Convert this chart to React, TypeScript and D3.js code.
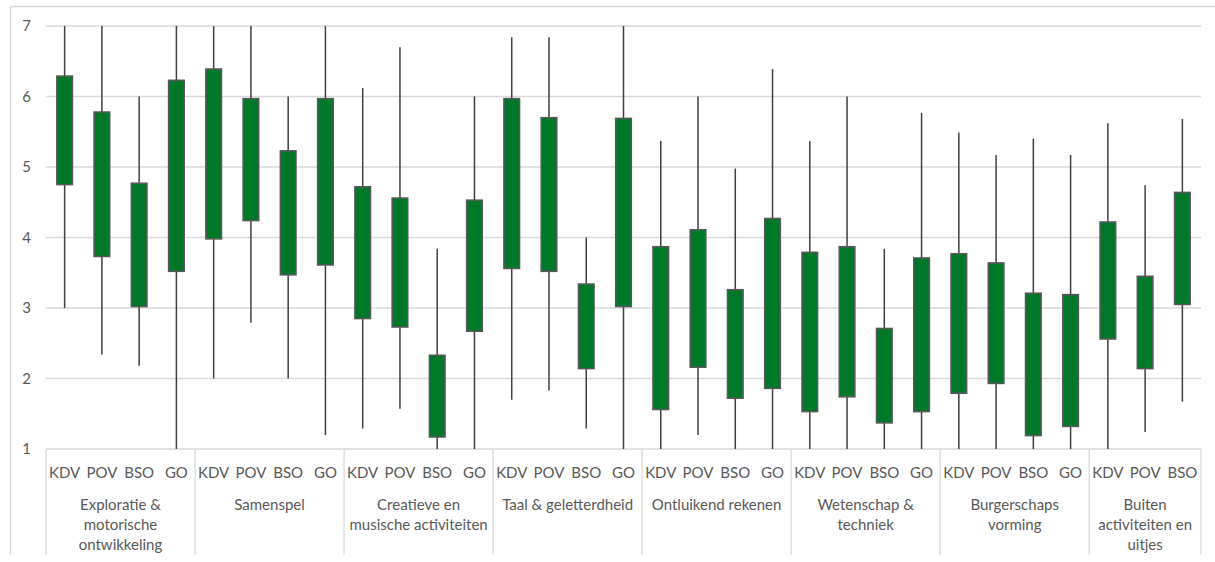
import React from "react";
import * as d3 from "d3";

const groups: string[][] = [
  ["Exploratie &", "motorische", "ontwikkeling"],
  ["Samenspel"],
  ["Creatieve en", "musische activiteiten"],
  ["Taal & geletterdheid"],
  ["Ontluikend rekenen"],
  ["Wetenschap &", "techniek"],
  ["Burgerschaps", "vorming"],
  ["Buiten", "activiteiten en", "uitjes"],
];
const subs: string[][] = [
  ["KDV", "POV", "BSO", "GO"],
  ["KDV", "POV", "BSO", "GO"],
  ["KDV", "POV", "BSO", "GO"],
  ["KDV", "POV", "BSO", "GO"],
  ["KDV", "POV", "BSO", "GO"],
  ["KDV", "POV", "BSO", "GO"],
  ["KDV", "POV", "BSO", "GO"],
  ["KDV", "POV", "BSO"],
];
const high: number[] = [
  7, 7, 6.0, 7,
  7, 7, 6.0, 7,
  6.12, 6.7, 3.84, 6.0,
  6.84, 6.84, 4.0, 7,
  5.37, 6.0, 4.98, 6.39,
  5.37, 6.0, 3.84, 5.77,
  5.49, 5.17, 5.4, 5.17,
  5.62, 4.74, 5.68,
];
const boxTop: number[] = [
  6.29, 5.78, 4.77, 6.23,
  6.39, 5.97, 5.23, 5.97,
  4.72, 4.56, 2.33, 4.53,
  5.97, 5.7, 3.34, 5.69,
  3.87, 4.11, 3.26, 4.27,
  3.79, 3.87, 2.71, 3.71,
  3.77, 3.64, 3.21, 3.19,
  4.22, 3.45, 4.64,
];
const boxBottom: number[] = [
  4.75, 3.73, 3.02, 3.52,
  3.98, 4.24, 3.47, 3.61,
  2.85, 2.73, 1.17, 2.67,
  3.56, 3.52, 2.14, 3.02,
  1.56, 2.16, 1.72, 1.86,
  1.53, 1.74, 1.37, 1.53,
  1.79, 1.93, 1.19, 1.32,
  2.56, 2.14, 3.05,
];
const low: number[] = [
  3.0, 2.34, 2.18, 1.0,
  2.0, 2.79, 2.0, 1.2,
  1.29, 1.57, 1.0, 1.0,
  1.7, 1.83, 1.29, 1.0,
  1.0, 1.2, 1.0, 1.0,
  1.0, 1.0, 1.0, 1.0,
  1.0, 1.0, 1.0, 1.0,
  1.0, 1.24, 1.67,
];
const yTicks: number[] = [1, 2, 3, 4, 5, 6, 7];

const W = 1215;
const H = 562;
const left = 46;
const right = 1201;
const top = 26;
const bottom = 449;
const font = "Lato, 'Open Sans', sans-serif";
const textColor = "#595959";
const gridColor = "#d9d9d9";

export default function App() {
  const items: { key: string; label: string; g: number }[] = [];
  subs.forEach((s, gi) => s.forEach((l, si) => items.push({ key: `${gi}-${si}`, label: l, g: gi })));
  const x = d3.scaleBand<string>().domain(items.map((d) => d.key)).range([left, right]).padding(0);
  const y = d3.scaleLinear().domain([1, 7]).range([bottom, top]);
  const bw = x.bandwidth();
  const boxW = bw * 0.42;

  const bounds: number[] = [];
  let idx = 0;
  const groupSpans: { x0: number; x1: number }[] = [];
  subs.forEach((s) => {
    const x0 = x(items[idx].key)!;
    const x1 = x(items[idx + s.length - 1].key)! + bw;
    groupSpans.push({ x0, x1 });
    bounds.push(x0);
    idx += s.length;
  });
  bounds.push(right);

  return (
    <svg width={W} height={H} style={{ position: "absolute", left: 0, top: 0, background: "#fff" }}>
      <line x1={10.5} x2={W} y1={6.5} y2={6.5} stroke={gridColor} strokeWidth={1.3} />
      <line x1={10.5} x2={10.5} y1={6.5} y2={555} stroke={gridColor} strokeWidth={1.3} />
      {yTicks.map((t) => (
        <g key={t}>
          <line x1={left} x2={right} y1={y(t)} y2={y(t)} stroke={gridColor} strokeWidth={1.3} />
          <text x={31} y={y(t)} dy="0.35em" textAnchor="end" fontFamily={font} fontSize={15} fill={textColor}>
            {t}
          </text>
        </g>
      ))}
      {bounds.map((b, i) => (
        <line key={i} x1={b} x2={b} y1={bottom} y2={555} stroke={gridColor} strokeWidth={1.3} />
      ))}
      {items.map((d, i) => {
        const cx = x(d.key)! + bw / 2;
        return (
          <g key={d.key}>
            <line x1={cx} x2={cx} y1={y(high[i])} y2={y(low[i])} stroke="#404040" strokeWidth={1.5} />
            <rect
              x={cx - boxW / 2}
              y={y(boxTop[i])}
              width={boxW}
              height={y(boxBottom[i]) - y(boxTop[i])}
              fill="#00782a"
              stroke="#595959"
              strokeWidth={1.5}
            />
            <text x={cx} y={473} dy="0.35em" textAnchor="middle" fontFamily={font} fontSize={15} fill={textColor}>
              {d.label}
            </text>
          </g>
        );
      })}
      {groups.map((lines, gi) => {
        const cx = (groupSpans[gi].x0 + groupSpans[gi].x1) / 2;
        return (
          <text key={gi} textAnchor="middle" fontFamily={font} fontSize={15} fill={textColor}>
            {lines.map((l, li) => (
              <tspan key={li} x={cx} y={505 + li * 20} dy="0.35em">
                {l}
              </tspan>
            ))}
          </text>
        );
      })}
    </svg>
  );
}
